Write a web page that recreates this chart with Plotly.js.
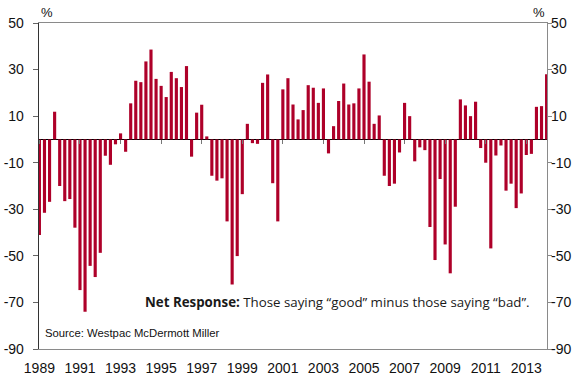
<!DOCTYPE html>
<html>
<head>
<meta charset="utf-8">
<script src="https://cdn.plot.ly/plotly-3.0.1.min.js"></script>
<style>html,body{margin:0;padding:0;background:#fff;}#chart{width:581px;height:378px;}</style>
</head>
<body>
<div id="chart"></div>
<script>
// Quarterly net response (%), starting 1989 Q1
const startYear = 1989;
const netResponse = [
  -41, -31.5, -26.8, 11.9, -20, -26.5, -25.6, -37.9, -64.7, -74,
  -54.3, -59.1, -48.7, -7, -10.9, -2.1, 2.6, -5.3, 15.5, 25.2,
  24.6, 33.5, 38.6, 26, 23, 18.2, 29, 26.3, 22.5, 31.5,
  -7.4, 11.5, 14.9, 1.3, -15.6, -17.7, -16.7, -35.2, -62.3, -50.1,
  -23.5, 6.7, -1.6, -1.9, 24.3, 27.9, -18.8, -35.2, 21.5, 26.3,
  15, 8.6, 12.6, 23.3, 22.2, 15.7, 21.9, -6, 5.7, 16.5,
  24, 15, 15.5, 21.9, 36.5, 24.8, 6.7, 10.3, -15.6, -20,
  -19, -5.6, 15.7, 10, -9.4, -3.4, -4.6, -37.6, -51.8, -17,
  -45.1, -57.5, -28.9, 17.2, 14.6, 10, 16.2, -3.7, -10, -46.8,
  -6.9, -2.6, -22, -19, -29.5, -23.2, -6.7, -6.2, 14, 14.3,
  28
];
const periods = netResponse.map((v, i) => startYear + i * 0.25);
const yearTicks = [1989, 1991, 1993, 1995, 1997, 1999, 2001, 2003, 2005, 2007, 2009, 2011, 2013];
const yearLabels = yearTicks.map(String);
const yTicks = [50, 30, 10, -10, -30, -50, -70, -90];
const yLabels = yTicks.map(String);

const barColor = '#ae0029';
const tickFont = {family: 'Liberation Sans, Arial, sans-serif', size: 14, color: '#111'};

const traces = [
  {
    type: 'bar', x: periods, y: netResponse,
    marker: {color: barColor, line: {width: 0}},
    hoverinfo: 'x+y', showlegend: false
  },
  {
    type: 'scatter', mode: 'markers', x: [null], y: [null],
    xaxis: 'x2', yaxis: 'y2', showlegend: false, hoverinfo: 'skip'
  }
];

const xRange = [1988.98, 2014.02];
const yRange = [-90, 50];

const layout = {
  width: 581, height: 378,
  margin: {l: 39, r: 34, t: 23, b: 29},
  paper_bgcolor: '#fff', plot_bgcolor: '#fff',
  bargap: 0.38,
  xaxis: {
    range: xRange, tickmode: 'array', tickvals: yearTicks, ticktext: yearLabels,
    showline: true, linecolor: '#8a8a8a', linewidth: 1.3, mirror: true,
    ticks: '', showgrid: false, zeroline: false, tickfont: tickFont,
    ticklabelstandoff: 6
  },
  xaxis2: {
    range: xRange, overlaying: 'x', anchor: 'free', position: 90 / 140,
    tickmode: 'array', tickvals: yearTicks, ticks: 'outside', ticklen: 4, tickwidth: 1,
    tickcolor: '#777', showticklabels: false, showline: false, showgrid: false, zeroline: false
  },
  yaxis: {
    range: yRange, tickmode: 'array', tickvals: yTicks, ticktext: yLabels,
    showline: true, linecolor: '#333', linewidth: 1.3,
    ticks: 'outside', ticklen: 5, tickcolor: '#666', tickwidth: 1,
    showgrid: false, zeroline: true, zerolinecolor: '#000', zerolinewidth: 1.2,
    tickfont: tickFont, ticklabelstandoff: 6
  },
  yaxis2: {
    range: yRange, overlaying: 'y', side: 'right', anchor: 'x',
    tickmode: 'array', tickvals: yTicks, ticktext: yLabels,
    showline: true, linecolor: '#8a8a8a', linewidth: 1.3,
    ticks: 'outside', ticklen: 4, tickcolor: '#888', tickwidth: 1,
    showgrid: false, zeroline: false, tickfont: tickFont, ticklabelstandoff: -4
  },
  annotations: [
    {xref: 'paper', yref: 'paper', x: 0, y: 1, xanchor: 'left', yanchor: 'bottom',
     text: '%', showarrow: false, font: {family: 'Liberation Sans, Arial', size: 13, color: '#111'}, yshift: 1},
    {xref: 'paper', yref: 'paper', x: 1, y: 1, xanchor: 'right', yanchor: 'bottom',
     text: '%', showarrow: false, font: {family: 'Liberation Sans, Arial', size: 13, color: '#111'}, yshift: 1},
    {xref: 'paper', yref: 'paper', x: 0.970, y: 0.144, xanchor: 'right', yanchor: 'middle',
     text: '<b>Net Response:</b> Those saying \u201Cgood\u201D minus those saying \u201Cbad\u201D.',
     showarrow: false, font: {family: 'Open Sans, Noto Sans, sans-serif', size: 13.3, color: '#1a1a1a'}},
    {xref: 'paper', yref: 'paper', x: 0.008, y: 0.049, xanchor: 'left', yanchor: 'middle',
     text: 'Source: Westpac McDermott Miller',
     showarrow: false, font: {family: 'Liberation Sans, Arial', size: 11.3, color: '#111'}}
  ]
};

Plotly.newPlot('chart', traces, layout, {staticPlot: true, displayModeBar: false});
</script>
</body>
</html>
